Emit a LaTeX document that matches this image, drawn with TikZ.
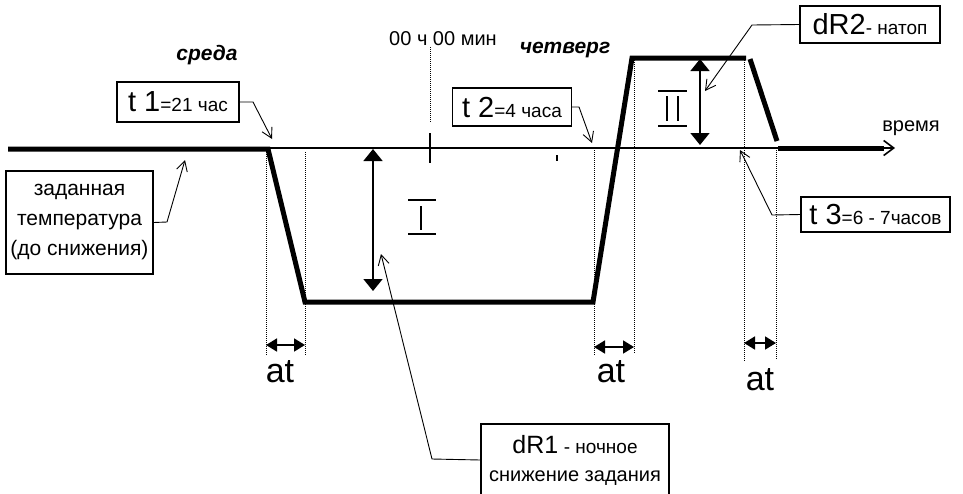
\documentclass[tikz,border=0pt]{standalone}
\usepackage{fontspec}
\setmainfont{Liberation Sans}
\usetikzlibrary{arrows.meta,positioning}
\definecolor{HeatInk}{HTML}{000000}
\definecolor{HeatPaper}{HTML}{FFFFFF}
\newcommand{\heatbig}[1]{{\fontsize{29}{30}\selectfont #1}}
\tikzset{
  heat callout/.style={
    draw=HeatInk,
    fill=HeatPaper,
    text=HeatInk,
    line width=1.2pt,
    inner sep=0pt,
    align=center,
    font=\fontsize{19}{28}\selectfont
  },
  heat note/.style={text=HeatInk,inner sep=0pt,font=\fontsize{20}{24}\selectfont},
  heat day/.style={text=HeatInk,inner sep=0pt,font=\fontsize{21}{24}\selectfont\bfseries\itshape},
  heat at/.style={text=HeatInk,inner sep=0pt,font=\fontsize{34}{36}\selectfont},
  heat profile/.style={draw=HeatInk,line width=5pt},
  heat axis/.style={-{Straight Barb[length=10pt,width=15pt]},draw=HeatInk,line width=1.6pt},
  heat guide/.style={draw=HeatInk,line width=1pt,dash pattern=on 1pt off 1pt},
  heat pointer/.style={-{Straight Barb[length=10pt,width=11pt]},draw=HeatInk,line width=0.9pt},
  heat span/.style={{Triangle[length=11pt,width=13pt]}-{Triangle[length=11pt,width=13pt]},draw=HeatInk,line width=1.8pt},
  heat level/.style={{Triangle[length=12pt,width=19pt]}-{Triangle[length=12pt,width=19pt]},draw=HeatInk,line width=1.6pt},
  heat numeral/.style={draw=HeatInk,line width=1.6pt}
}

\begin{document}
\begin{tikzpicture}[x=1pt,y=-1pt]
  \useasboundingbox (0,0) rectangle (963,493);

  % time axis and set-point profile
  \coordinate (axisstart) at (8,148);
  \coordinate (axisend) at (895,148);
  \draw[heat axis] (axisstart) -- (axisend);
  \draw[heat profile] (8,149) -- (268,149) -- (305,302) -- (593,302) -- (632,58) -- (746,58);
  \draw[heat profile] (750,59) -- (777,141);
  \draw[heat profile] (778,148) -- (884,148);

  % ramp guides
  \foreach \gx/\gtop/\gbot in {266/150/355,305/152/355,594/148/355,634/60/353,744/60/362,776/148/360}
    \draw[heat guide] (\gx,\gtop) -- (\gx,\gbot);
  \draw[heat guide] (430,47) -- (430,122);
  \draw[draw=HeatInk,line width=2pt] (430,133) -- (430,163);
  \draw[draw=HeatInk,line width=1.2pt] (557,155) -- (557,161);

  % ramp durations
  \coordinate (rampAl) at (266,345);
  \coordinate (rampAr) at (305,345);
  \coordinate (rampBl) at (594,347);
  \coordinate (rampBr) at (634,347);
  \coordinate (rampCl) at (744,343);
  \coordinate (rampCr) at (776,343);
  \draw[heat span] (rampAl) -- (rampAr);
  \draw[heat span] (rampBl) -- (rampBr);
  \draw[heat span] (rampCl) -- (rampCr);
  \node[heat at] (atA) at (280,372) {at};
  \node[heat at] (atB) at (611,372) {at};
  \node[heat at] (atC) at (760,380) {at};

  % set-back and boost levels
  \coordinate (dropTop) at (373,149);
  \coordinate (dropBot) at (373,291);
  \draw[heat level] (dropTop) -- (dropBot);
  \coordinate (boostTop) at (700,59);
  \coordinate (boostBot) at (700,145);
  \draw[heat level] (boostTop) -- (boostBot);
  \draw[heat numeral] (408,200) -- (436,200) (408,234) -- (436,234) (421,206) -- (421,230);
  \draw[heat numeral] (658,91) -- (687,91) (658,126) -- (687,126)
    (667,96) -- (667,121) (678,96) -- (678,121);

  % texts
  \node[heat day] (wed) at (207,55) {среда};
  \node[heat day] (thu) at (565,50) {четверг};
  \node[heat note] (midnight) at (443,39) {00 ч 00 мин};
  \node[heat note] (timelbl) at (911,128) {время};

  % callouts
  \node[heat callout,minimum width=122pt,minimum height=40pt] (tone) at (178,102) {\heatbig{t 1}=21 час};
  \node[heat callout,minimum width=119pt,minimum height=38pt] (ttwo) at (512,107) {\heatbig{t 2}=4 часа};
  \node[heat callout,minimum width=140pt,minimum height=37pt] (dRtwo) at (870,24.5) {\heatbig{dR2}- натоп};
  \node[heat callout,minimum width=149pt,minimum height=35pt] (tthree) at (875.5,214.5) {\heatbig{t 3}=6 - 7часов};
  \node[heat callout,minimum width=147pt,minimum height=103pt,font=\fontsize{21}{30}\selectfont] (base) at (79.5,222.5) {заданная\\температура\\(до снижения)};
  \node[heat callout,minimum width=188pt,minimum height=72pt,font=\fontsize{20}{28}\selectfont] (dRone) at (575,460)
    {{\fontsize{25}{28}\selectfont dR1} {\fontsize{19}{28}\selectfont - ночное}\\снижение задания};

  % pointers
  \coordinate (toneBend) at (253,102);
  \coordinate (toneTip) at (272,139);
  \coordinate (ttwoBend) at (579,107);
  \coordinate (ttwoTip) at (592,143);
  \coordinate (dRtwoBend) at (752,25);
  \coordinate (dRtwoTip) at (705,91);
  \coordinate (tthreeBend) at (772,215);
  \coordinate (tthreeTip) at (740,150);
  \coordinate (baseBend) at (167,222);
  \coordinate (baseTip) at (185,160);
  \coordinate (dRoneBend) at (432,459);
  \coordinate (dRoneTip) at (381,254);
  \draw[heat pointer] (tone.east) -- (toneBend) -- (toneTip);
  \draw[heat pointer] (ttwo.east) -- (ttwoBend) -- (ttwoTip);
  \draw[heat pointer] (dRtwo.west) -- (dRtwoBend) -- (dRtwoTip);
  \draw[heat pointer] (tthree.west) -- (tthreeBend) -- (tthreeTip);
  \draw[heat pointer] (base.east) -- (baseBend) -- (baseTip);
  \draw[heat pointer] (dRone.west) -- (dRoneBend) -- (dRoneTip);
\end{tikzpicture}
\end{document}
